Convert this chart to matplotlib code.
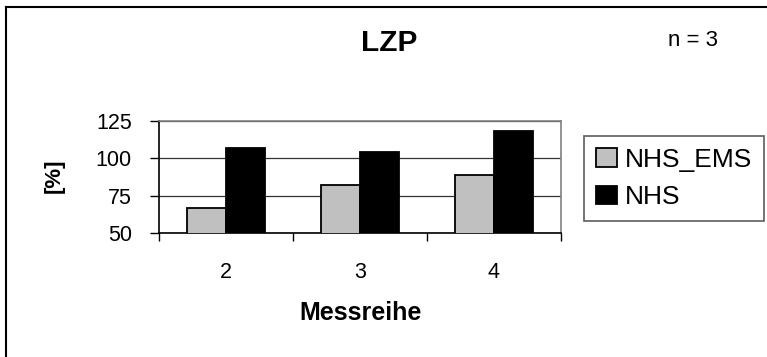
import numpy as np
import matplotlib
matplotlib.use("Agg")
import matplotlib.pyplot as plt
from matplotlib.lines import Line2D

plt.rcParams["font.family"] = ["Liberation Sans", "DejaVu Sans"]

categories = ["2", "3", "4"]
nhs_ems = [66.5, 82, 89]
nhs = [107, 104.5, 118]
y_ticks = [50, 75, 100, 125]

W, H = 767, 357
fig = plt.figure(figsize=(W / 100, H / 100), dpi=100)
ax = fig.add_axes([159 / W, 1 - 233 / H, 402 / W, 112 / H])

x = np.arange(len(categories))
bw = 0.29
ax.bar(x - bw / 2, nhs_ems, bw, color="#c0c0c0", edgecolor="black",
       linewidth=1.3, label="NHS_EMS", zorder=3)
ax.bar(x + bw / 2, nhs, bw, color="black", edgecolor="black",
       linewidth=1.3, label="NHS", zorder=3)

ax.set_ylim(50, 125)
ax.set_xlim(-0.5, len(categories) - 0.5)
ax.set_yticks(y_ticks)
ax.yaxis.grid(True, color="#333333", linewidth=0.9, zorder=0)

# category labels centred, tick marks on the boundaries
ax.set_xticks(x)
ax.set_xticklabels(categories, fontsize=15.5)
ax.set_xticks(np.arange(len(categories) + 1) - 0.5, minor=True)
ax.tick_params(axis="x", which="major", length=0, pad=21)
ax.tick_params(axis="x", which="minor", length=5.8, width=1, direction="out")
ax.tick_params(axis="y", length=6.5, width=1, pad=13, labelsize=15.5)

for side in ["top", "right"]:
    ax.spines[side].set_color("#808080")
    ax.spines[side].set_linewidth(1.2)
ax.spines["left"].set_linewidth(1.2)
ax.spines["bottom"].set_linewidth(1.2)

fig.text(389 / W, 1 - 43 / H, "LZP", fontsize=21.5, fontweight="bold",
         ha="center", va="center")
fig.text(693 / W, 1 - 41 / H, "n = 3", fontsize=16, ha="center", va="center")
fig.text(54 / W, 1 - 176 / H, "[%]", fontsize=16, fontweight="bold",
         rotation=90, ha="center", va="center")
fig.text(361 / W, 1 - 313 / H, "Messreihe", fontsize=18, fontweight="bold",
         ha="center", va="center")

leg = fig.legend(loc="upper left", bbox_to_anchor=(584 / W, 1 - 136 / H),
                 fontsize=19, frameon=True, fancybox=False, shadow=False,
                 handlelength=0.8, handleheight=0.7, handletextpad=0.3,
                 labelspacing=0.5, borderpad=0.45, borderaxespad=0)
leg.get_frame().set_edgecolor("#333333")
leg.get_frame().set_linewidth(1.2)

# outer chart border (only left and top edges fall inside the picture)
fig.add_artist(Line2D([6 / W, 6 / W], [0, 1 - 7 / H], color="black", linewidth=1.5))
fig.add_artist(Line2D([6 / W, 1], [1 - 7 / H, 1 - 7 / H], color="black", linewidth=1.5))

fig.savefig("out.png", dpi=100)
